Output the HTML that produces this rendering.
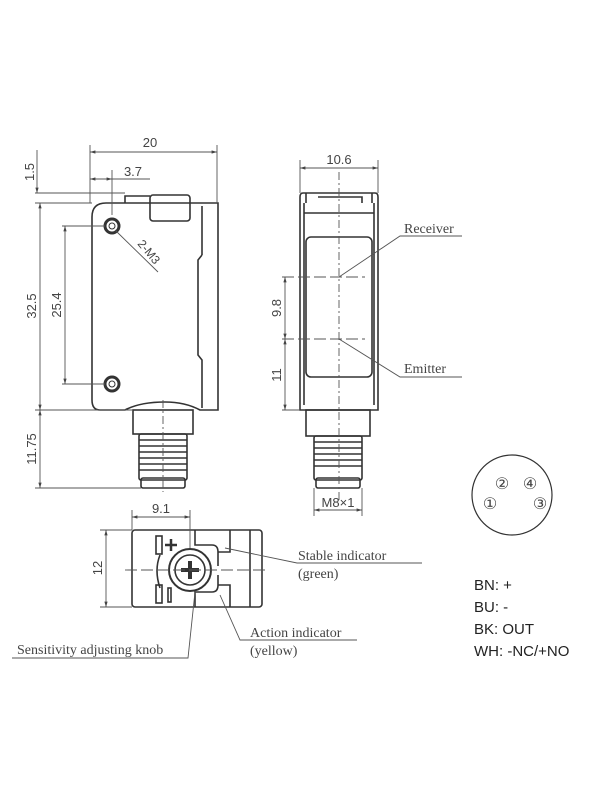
<!DOCTYPE html>
<html><head><style>body{margin:0;background:#fff}svg{display:block}</style></head><body>
<svg width="600" height="800" viewBox="0 0 600 800" xmlns="http://www.w3.org/2000/svg" font-family="Liberation Sans, sans-serif">
<defs><marker id="a" viewBox="0 0 10 10" refX="10" refY="5" markerWidth="6" markerHeight="6" orient="auto-start-reverse"><path d="M0,2L10,5L0,8z" fill="#444"/></marker></defs>
<g stroke="#333" fill="none" stroke-width="1.6">
<path d="M106,203 H218 V410 H200 Q185,402 165,402 Q140,402 125,410 H100 Q92,410 92,400 V217 Q92,203 106,203Z"/>
<line x1="202" y1="206" x2="202" y2="255"/><path d="M202,255 L198,260 V355 L202,360 V408"/>
<rect x="150" y="195" width="40" height="26" rx="3"/>
<path d="M125,203 V196 H150"/>
<circle cx="112" cy="226" r="7" stroke-width="3"/><circle cx="112" cy="384" r="7" stroke-width="3"/>
<circle cx="112" cy="226" r="3" stroke-width="1"/><circle cx="112" cy="384" r="3" stroke-width="1"/>
<rect x="133" y="410" width="60" height="24"/>
<rect x="139" y="434" width="48" height="46" rx="2"/>
<path d="M139,440 H187 M139,446 H187 M139,452 H187 M139,458 H187 M139,464 H187 M139,470 H187"/>
<rect x="141" y="478" width="44" height="10" rx="2"/>
<path d="M303,193 H375 Q378,193 378,197 V410 H300 V197 Q300,193 303,193Z"/>
<path d="M306,193 V203 M372,193 V203 M318,197 H362 V203 M304,213 H374"/>
<line x1="304" y1="203" x2="304" y2="405"/><line x1="374" y1="203" x2="374" y2="405"/>
<rect x="306" y="237" width="66" height="140" rx="5"/>
<rect x="306" y="410" width="64" height="26"/>
<rect x="314" y="436" width="48" height="44" rx="2"/>
<path d="M314,442 H362 M314,448 H362 M314,454 H362 M314,460 H362 M314,466 H362"/>
<rect x="316" y="478" width="44" height="10" rx="2"/>
<circle cx="512" cy="495" r="40" stroke-width="1.2"/>
<rect x="132" y="530" width="130" height="77" rx="3"/>
<line x1="250" y1="530" x2="250" y2="607"/>
<path d="M195,530 V545 H212 Q218,545 218,552 V566 M195,607 V592 H212 Q218,592 218,585 V575"/>
<path d="M218,552 H230 V530 M218,585 H230 V607"/>
<circle cx="190" cy="570" r="21" stroke-width="2"/><circle cx="190" cy="570" r="15"/>
<path d="M160,555 Q154,570 160,588"/>
<rect x="156" y="536" width="6" height="18"/><rect x="156" y="585" width="6" height="18"/><rect x="168" y="588" width="3" height="14"/>
<path d="M165,545 H177 M171,539 V551" stroke-width="2.5"/>
<path d="M181,570 H199 M190,561 V579" stroke-width="4"/>
</g>
<g stroke="#555" stroke-width="0.9" fill="none">
<path d="M90,145 V203 M217,145 V203 M112,170 V215"/>
<line x1="90" y1="152" x2="217" y2="152" marker-start="url(#a)" marker-end="url(#a)"/>
<line x1="90" y1="179" x2="112" y2="179" marker-start="url(#a)" marker-end="url(#a)"/><path d="M112,179 H150"/>
<path d="M35,193 H125 M35,203 H92 M35,410 H133 M35,488 H141 M62,226 H105 M62,384 H105"/>
<line x1="37" y1="150" x2="37" y2="193" marker-end="url(#a)"/>
<line x1="40" y1="203" x2="40" y2="410" marker-start="url(#a)" marker-end="url(#a)"/>
<line x1="65" y1="226" x2="65" y2="384" marker-start="url(#a)" marker-end="url(#a)"/>
<line x1="40" y1="410" x2="40" y2="488" marker-start="url(#a)" marker-end="url(#a)"/>
<path d="M115,230 L158,272"/>
<path d="M163,400 V492" stroke-dasharray="8,3,2,3"/>
<path d="M300,160 V193 M378,160 V193"/>
<line x1="300" y1="168" x2="378" y2="168" marker-start="url(#a)" marker-end="url(#a)"/>
<path d="M339,172 V500" stroke-dasharray="8,3,2,3"/>
<path d="M282,277 H365 M282,339 H365" stroke-dasharray="12,4"/>
<path d="M282,410 H300"/>
<line x1="285" y1="277" x2="285" y2="339" marker-start="url(#a)" marker-end="url(#a)"/>
<line x1="285" y1="339" x2="285" y2="410" marker-start="url(#a)" marker-end="url(#a)"/>
<path d="M339,277 L400,236 H462 M339,339 L400,377 H462"/>
<path d="M314,488 V516 M362,488 V516"/>
<line x1="314" y1="510" x2="362" y2="510" marker-start="url(#a)" marker-end="url(#a)"/>
<path d="M132,510 V530 M190,510 V548"/>
<line x1="132" y1="517" x2="190" y2="517" marker-start="url(#a)" marker-end="url(#a)"/>
<path d="M100,530 H132 M100,607 H132"/>
<line x1="106" y1="530" x2="106" y2="607" marker-start="url(#a)" marker-end="url(#a)"/>
<path d="M125,570 H268" stroke-dasharray="12,4"/>
<path d="M225,548 L297,563 H422 M220,595 L240,640 H357 M195,592 L188,658 H12"/>
</g>
<g fill="#444" font-size="13">
<text x="150" y="147" text-anchor="middle">20</text>
<text x="133" y="176" text-anchor="middle">3.7</text>
<text x="137" y="244" transform="rotate(50 137 244)" font-size="12">2-M3</text>
<text transform="translate(34,172) rotate(-90)" text-anchor="middle">1.5</text>
<text transform="translate(36,306) rotate(-90)" text-anchor="middle">32.5</text>
<text transform="translate(61,305) rotate(-90)" text-anchor="middle">25.4</text>
<text transform="translate(36,449) rotate(-90)" text-anchor="middle">11.75</text>
<text x="339" y="164" text-anchor="middle">10.6</text>
<text transform="translate(281,308) rotate(-90)" text-anchor="middle">9.8</text>
<text transform="translate(281,375) rotate(-90)" text-anchor="middle">11</text>
<text x="338" y="507" text-anchor="middle">M8×1</text>
<text x="161" y="513" text-anchor="middle">9.1</text>
<text transform="translate(102,568) rotate(-90)" text-anchor="middle">12</text>
<text x="502" y="489" text-anchor="middle" font-size="16">②</text>
<text x="530" y="489" text-anchor="middle" font-size="16">④</text>
<text x="490" y="509" text-anchor="middle" font-size="16">①</text>
<text x="540" y="509" text-anchor="middle" font-size="16">③</text>
</g>
<g fill="#444" font-family="Liberation Serif, serif" font-size="14">
<text x="404" y="233">Receiver</text>
<text x="404" y="373">Emitter</text>
<text x="298" y="560">Stable indicator</text>
<text x="298" y="578">(green)</text>
<text x="250" y="637">Action indicator</text>
<text x="250" y="655">(yellow)</text>
<text x="17" y="654">Sensitivity adjusting knob</text>
</g>
<g fill="#222" font-size="15">
<text x="474" y="590">BN: +</text>
<text x="474" y="612">BU: -</text>
<text x="474" y="634">BK: OUT</text>
<text x="474" y="656">WH: -NC/+NO</text>
</g>
</svg>
</body></html>
